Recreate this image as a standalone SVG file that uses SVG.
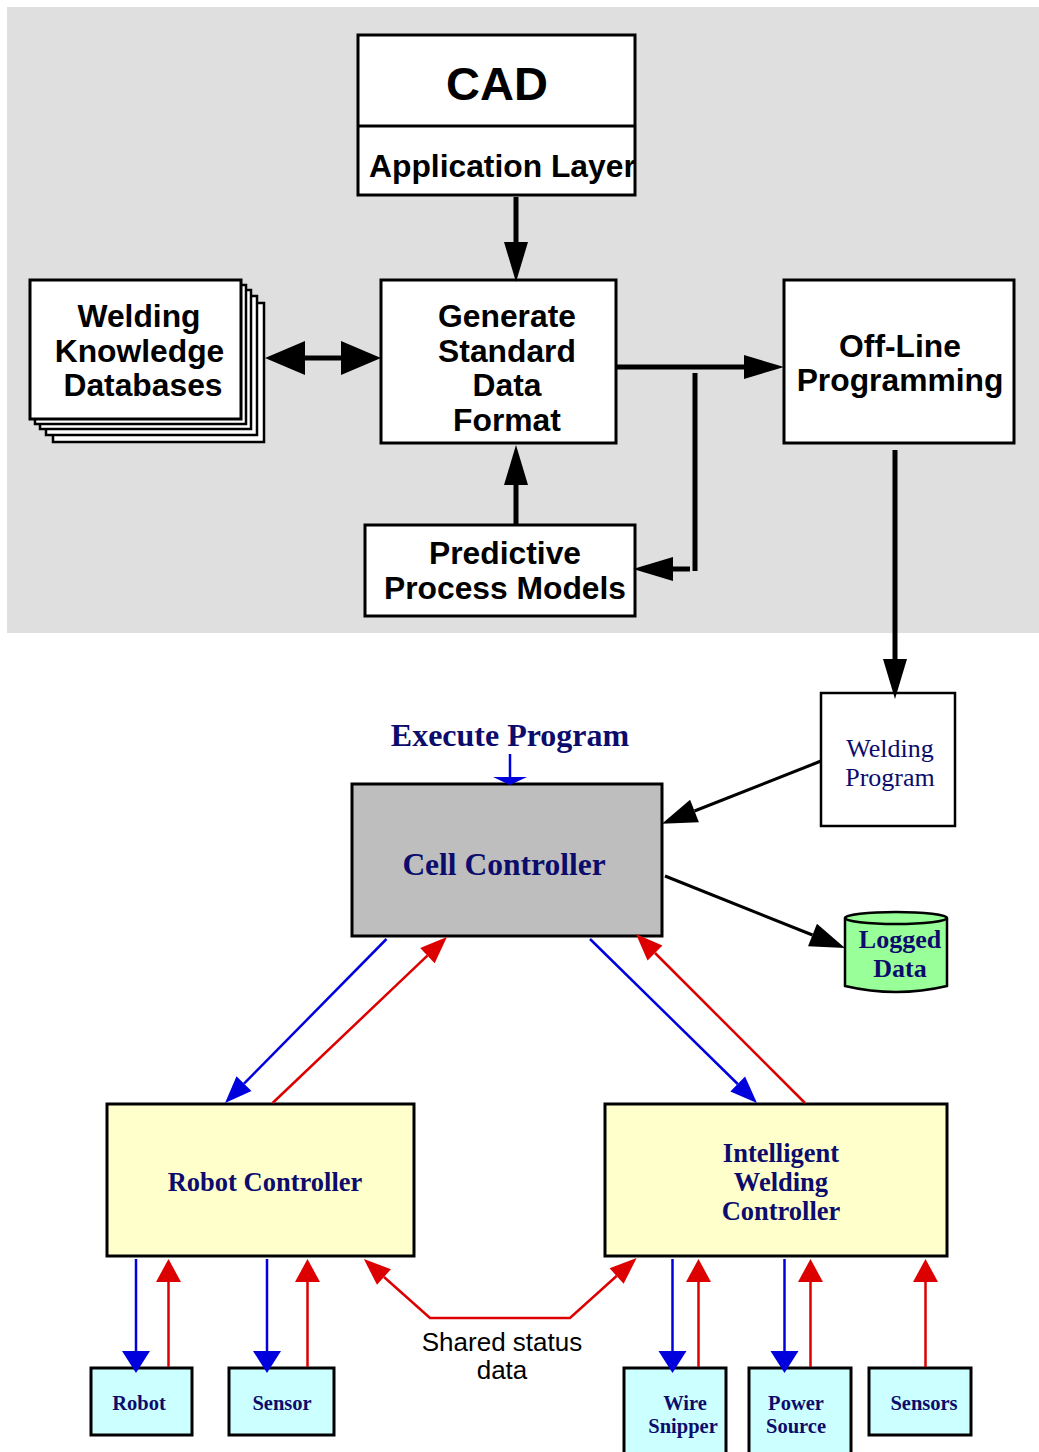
<svg xmlns="http://www.w3.org/2000/svg" width="1039" height="1452" viewBox="0 0 1039 1452">
<style>
.box{fill:#fff;stroke:#000;stroke-width:3}
.t{font-family:"Liberation Sans",Arial,sans-serif;font-weight:bold;font-size:31.8px;fill:#000;text-anchor:middle}
.s{font-family:"Liberation Serif","Times New Roman",serif;fill:#0c0c6c;text-anchor:middle;font-weight:bold}
.k{stroke:#000;stroke-width:5;fill:none}
.kt{stroke:#000;stroke-width:3;fill:none}
.b{stroke:#0000dd;stroke-width:2.5;fill:none}
.r{stroke:#dd0000;stroke-width:2.5;fill:none}
.ctl{fill:#ffffcc;stroke:#000;stroke-width:3}
.dev{fill:#ccffff;stroke:#000;stroke-width:3}
</style>
<defs>
<marker id="ak" markerUnits="userSpaceOnUse" markerWidth="40" markerHeight="24" refX="0" refY="12" orient="auto-start-reverse" overflow="visible"><path d="M0,0L40,12L0,24z" fill="#000"/></marker>
<marker id="akw" markerUnits="userSpaceOnUse" markerWidth="40" markerHeight="34" refX="0" refY="17" orient="auto-start-reverse" overflow="visible"><path d="M0,0L40,17L0,34z" fill="#000"/></marker>
<marker id="akt" markerUnits="userSpaceOnUse" markerWidth="35" markerHeight="24" refX="0" refY="12" orient="auto" overflow="visible"><path d="M0,0L35,12L0,24z" fill="#000"/></marker>
<marker id="ab0" markerUnits="userSpaceOnUse" markerWidth="8" markerHeight="34" refX="0" refY="17" orient="auto" overflow="visible"><path d="M0,0L8,17L0,34z" fill="#0000dd"/></marker>
<marker id="ab" markerUnits="userSpaceOnUse" markerWidth="27" markerHeight="21" refX="0" refY="10.5" orient="auto" overflow="visible"><path d="M0,0L27,10.5L0,21z" fill="#0000dd"/></marker>
<marker id="ar" markerUnits="userSpaceOnUse" markerWidth="27" markerHeight="21" refX="0" refY="10.5" orient="auto-start-reverse" overflow="visible"><path d="M0,0L27,10.5L0,21z" fill="#dd0000"/></marker>
<marker id="bv" markerUnits="userSpaceOnUse" markerWidth="22" markerHeight="28" refX="0" refY="14" orient="auto" overflow="visible"><path d="M0,0L22,14L0,28z" fill="#0000dd"/></marker>
<marker id="rv" markerUnits="userSpaceOnUse" markerWidth="23" markerHeight="25" refX="0" refY="12.5" orient="auto" overflow="visible"><path d="M0,0L23,12.5L0,25z" fill="#dd0000"/></marker>
</defs>

<rect x="7" y="7" width="1032" height="626" fill="#dfdfdf"/>

<g id="cad">
<rect class="box" x="358" y="35" width="277" height="160"/>
<line x1="358" y1="126" x2="635" y2="126" stroke="#000" stroke-width="3"/>
<text class="t" x="497" y="100" style="font-size:47px">CAD</text>
<text class="t" x="369" y="177" style="font-size:31.8px;text-anchor:start">Application Layer</text>
</g>

<g id="welding-knowledge-databases">
<rect class="box" x="53" y="303" width="211" height="139" style="stroke-width:2.5"/>
<rect class="box" x="46" y="296" width="211" height="139" style="stroke-width:2.5"/>
<rect class="box" x="40" y="290" width="211" height="139" style="stroke-width:2.5"/>
<rect class="box" x="35" y="285" width="211" height="139" style="stroke-width:2.5"/>
<rect class="box" x="30" y="280" width="211" height="139"/>
<text class="t" x="139" y="327">Welding</text>
<text class="t" x="139.5" y="362">Knowledge</text>
<text class="t" x="143" y="396">Databases</text>
</g>

<g id="generate">
<rect class="box" x="381" y="280" width="235" height="163"/>
<text class="t" x="507" y="327">Generate</text>
<text class="t" x="507" y="362">Standard</text>
<text class="t" x="507" y="396">Data</text>
<text class="t" x="507" y="431">Format</text>
</g>

<g id="offline">
<rect class="box" x="784" y="280" width="230" height="163"/>
<text class="t" x="900" y="357">Off-Line</text>
<text class="t" x="900" y="391">Programming</text>
</g>

<g id="predictive">
<rect class="box" x="365" y="525" width="270" height="91"/>
<text class="t" x="505" y="564">Predictive</text>
<text class="t" x="505" y="599">Process Models</text>
</g>

<g id="welding-program">
<rect x="821" y="693" width="134" height="133" fill="#fff" stroke="#000" stroke-width="2.5"/>
<text class="s" x="890" y="757" style="font-size:26px;font-weight:normal">Welding</text>
<text class="s" x="890" y="786" style="font-size:26px;font-weight:normal">Program</text>
</g>

<g id="execute-label">
<text class="s" x="510" y="746" style="font-size:32px">Execute Program</text>
</g>

<g id="cell-controller">
<rect x="352" y="784" width="310" height="152" fill="#bebebe" stroke="#000" stroke-width="3"/>
<text class="s" x="504" y="875" style="font-size:31.5px">Cell Controller</text>
</g>

<g id="logged-data">
<path d="M845,918 L845,986 Q896,998 947,986 L947,918" fill="#99ff99" stroke="#000" stroke-width="2.5"/>
<ellipse cx="896" cy="918" rx="51" ry="6" fill="#99ff99" stroke="#000" stroke-width="2.5"/>
<text class="s" x="900" y="948" style="font-size:26px">Logged</text>
<text class="s" x="900" y="977" style="font-size:26px">Data</text>
</g>

<g id="robot-controller">
<rect class="ctl" x="107" y="1104" width="307" height="152"/>
<text class="s" x="265" y="1191" style="font-size:26.5px">Robot Controller</text>
</g>

<g id="intelligent-welding-controller">
<rect class="ctl" x="605" y="1104" width="342" height="152"/>
<text class="s" x="781" y="1162" style="font-size:26.5px">Intelligent</text>
<text class="s" x="781" y="1191" style="font-size:26.5px">Welding</text>
<text class="s" x="781" y="1220" style="font-size:26.5px">Controller</text>
</g>

<g id="robot">
<rect class="dev" x="91" y="1368" width="101" height="67"/>
<text class="s" x="139" y="1410" style="font-size:20.5px">Robot</text>
</g>
<g id="sensor">
<rect class="dev" x="229" y="1368" width="105" height="67"/>
<text class="s" x="282" y="1410" style="font-size:20.5px">Sensor</text>
</g>
<g id="wire-snipper">
<rect class="dev" x="624" y="1368" width="102" height="100"/>
<text class="s" x="685" y="1410" style="font-size:20.5px">Wire</text>
<text class="s" x="683" y="1433" style="font-size:20.5px">Snipper</text>
</g>
<g id="power-source">
<rect class="dev" x="749" y="1368" width="102" height="100"/>
<text class="s" x="796" y="1410" style="font-size:20.5px">Power</text>
<text class="s" x="796" y="1433" style="font-size:20.5px">Source</text>
</g>
<g id="sensors">
<rect class="dev" x="869" y="1368" width="102" height="67"/>
<text class="s" x="924" y="1410" style="font-size:20.5px">Sensors</text>
</g>

<g id="shared-label">
<text x="502" y="1351" font-family="'Liberation Sans',Arial,sans-serif" font-size="26" text-anchor="middle" fill="#000">Shared status</text>
<text x="502" y="1379" font-family="'Liberation Sans',Arial,sans-serif" font-size="26" text-anchor="middle" fill="#000">data</text>
</g>

<g id="connectors">
<line class="k" x1="516" y1="197" x2="516" y2="242" marker-end="url(#ak)"/>
<line class="k" x1="305" y1="358" x2="341" y2="358" marker-start="url(#akw)" marker-end="url(#akw)"/>
<line class="k" x1="616" y1="367" x2="744" y2="367" marker-end="url(#ak)"/>
<line class="k" x1="695" y1="373" x2="695" y2="571"/>
<line class="k" x1="690" y1="569" x2="673" y2="569" marker-end="url(#ak)"/>
<line class="k" x1="516" y1="525" x2="516" y2="485" marker-end="url(#ak)"/>
<line class="k" x1="895" y1="450" x2="895" y2="659" marker-end="url(#ak)"/>

<line class="b" x1="510" y1="754" x2="510" y2="777" marker-end="url(#ab0)"/>
<line class="kt" x1="821" y1="761" x2="694.5" y2="811" marker-end="url(#akt)"/>
<line class="kt" x1="665" y1="876" x2="812.5" y2="935" marker-end="url(#akt)"/>

<line class="b" x1="386.5" y1="939" x2="244" y2="1083.7" marker-end="url(#ab)"/>
<line class="r" x1="272.6" y1="1103" x2="427.4" y2="955.6" marker-end="url(#ar)"/>
<line class="b" x1="590" y1="939" x2="737.7" y2="1084" marker-end="url(#ab)"/>
<line class="r" x1="805" y1="1103" x2="655" y2="953" marker-end="url(#ar)"/>

<path class="r" d="M384,1277 L430,1318 L570,1318 L616.6,1276" marker-start="url(#ar)" marker-end="url(#ar)"/>

<line class="b" x1="136" y1="1259" x2="136" y2="1351" marker-end="url(#bv)"/>
<line class="r" x1="168.5" y1="1367" x2="168.5" y2="1282" marker-end="url(#rv)"/>
<line class="b" x1="267" y1="1259" x2="267" y2="1351" marker-end="url(#bv)"/>
<line class="r" x1="307.5" y1="1367" x2="307.5" y2="1282" marker-end="url(#rv)"/>
<line class="b" x1="672.5" y1="1259" x2="672.5" y2="1351" marker-end="url(#bv)"/>
<line class="r" x1="698.5" y1="1367" x2="698.5" y2="1282" marker-end="url(#rv)"/>
<line class="b" x1="784.5" y1="1259" x2="784.5" y2="1351" marker-end="url(#bv)"/>
<line class="r" x1="810.5" y1="1367" x2="810.5" y2="1282" marker-end="url(#rv)"/>
<line class="r" x1="925.5" y1="1367" x2="925.5" y2="1282" marker-end="url(#rv)"/>
</g>
</svg>
